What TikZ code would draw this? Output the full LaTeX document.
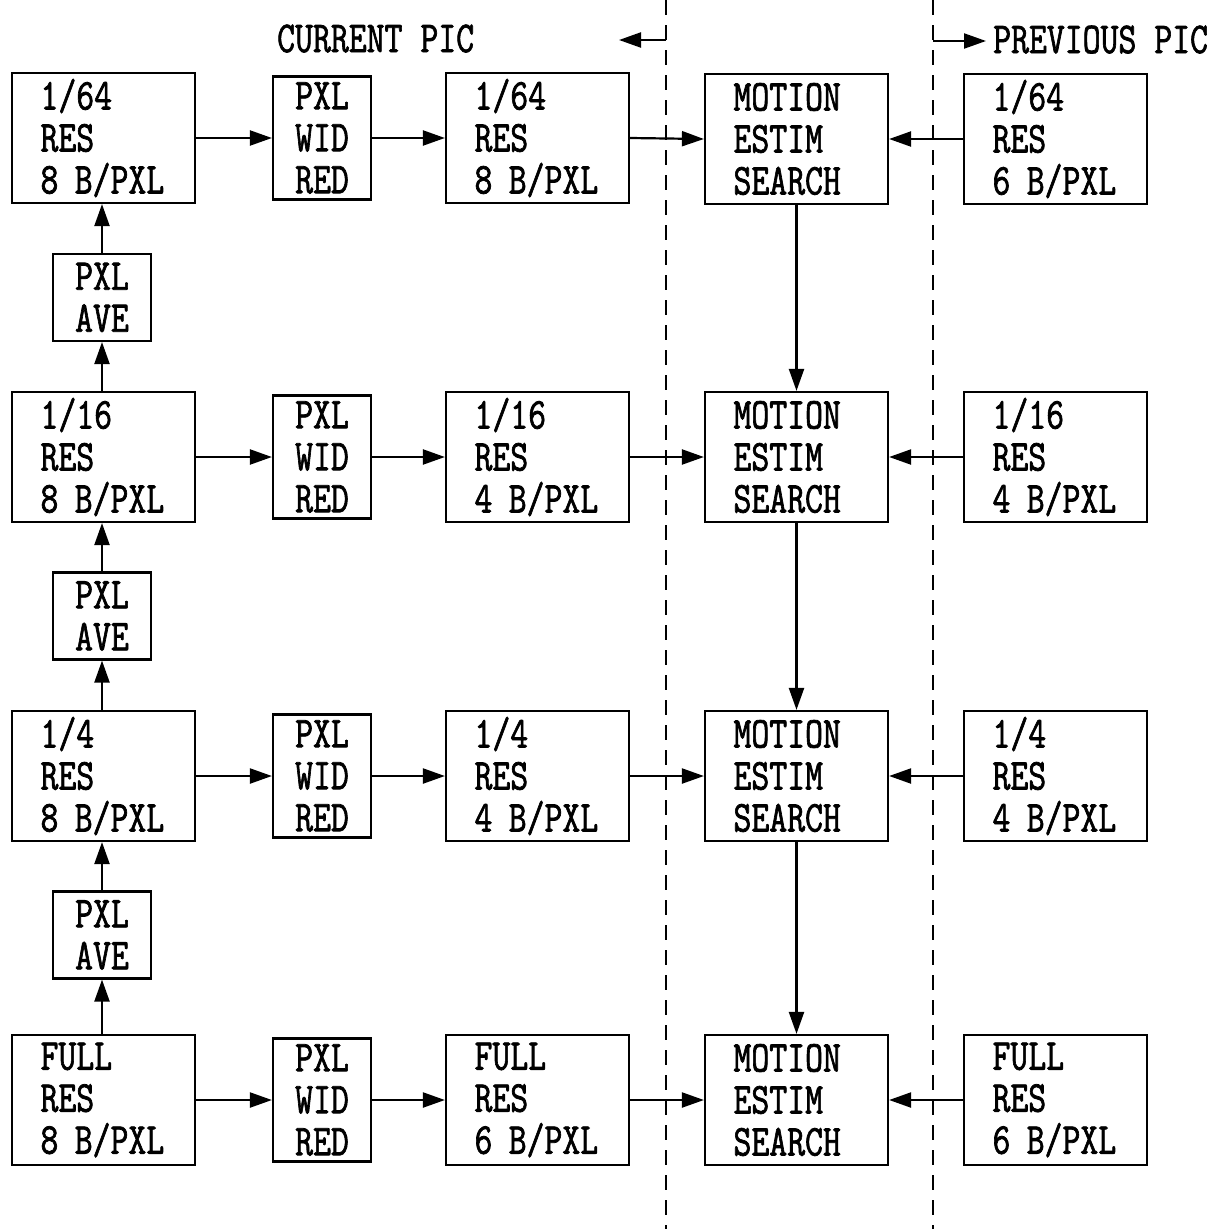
\documentclass[tikz,border=0pt]{standalone}
\usepackage{fontspec}
\usepackage{graphicx}
\usetikzlibrary{arrows.meta}
\newcommand{\cn}[1]{\scalebox{0.79}[1]{\special{pdf:literal 2 Tr 0.8 w}#1}}
\newcommand{\gap}{\hspace*{6pt} }
\tikzset{
  txt/.style={font=\ttfamily\fontsize{44}{42}\selectfont},
  bigbox/.style={txt,draw,line width=2.2pt,minimum height=130pt,text width=126pt,inner xsep=28.5pt,inner ysep=0pt,align=left},
  widbox/.style={txt,draw,line width=2.2pt,minimum height=123pt,text width=80pt,inner xsep=9pt,inner ysep=0pt,align=center},
  avebox/.style={txt,draw,line width=2.2pt,minimum height=87pt,text width=80pt,inner xsep=9pt,inner ysep=0pt,align=center},
  arr/.style={line width=2.2pt,-{Triangle[length=22pt,width=15pt]}},
  divider/.style={line width=2pt,dash pattern=on 15pt off 10pt},
  lbl/.style={txt,anchor=base west,inner sep=0pt}
}
\begin{document}
\begin{tikzpicture}[x=1pt,y=-1pt]
\useasboundingbox (0,0) rectangle (1228,1229);
% dividers
\coordinate (d1t) at (666,0); \coordinate (d1b) at (666,1229);
\coordinate (d2t) at (933,0); \coordinate (d2b) at (933,1229);
\draw[divider] (d1t) -- (d1b);
\draw[divider] (d2t) -- (d2b);
% header
\node[lbl] (cur) at (277,52) {\cn{CURRENT PIC}};
\node[lbl] (prev) at (993,53) {\cn{PREVIOUS PIC}};
\coordinate (h1s) at (666,40); \coordinate (h1e) at (619,40);
\coordinate (h2s) at (933,41); \coordinate (h2e) at (986,41);
\draw[arr] (h1s) -- (h1e);
\draw[arr] (h2s) -- (h2e);
% column 1
\node[bigbox] (a1) at (103.5,138) {\cn{1/64}\\\cn{RES}\\\cn{8\gap B/PXL}};
\node[bigbox] (a2) at (103.5,457) {\cn{1/16}\\\cn{RES}\\\cn{8\gap B/PXL}};
\node[bigbox] (a3) at (103.5,776) {\cn{1/4}\\\cn{RES}\\\cn{8\gap B/PXL}};
\node[bigbox] (a4) at (103.5,1100) {\cn{FULL}\\\cn{RES}\\\cn{8\gap B/PXL}};
\node[avebox] (v1) at (102,297.5) {\cn{PXL}\\\cn{AVE}};
\node[avebox] (v2) at (102,616) {\cn{PXL}\\\cn{AVE}};
\node[avebox] (v3) at (102,935) {\cn{PXL}\\\cn{AVE}};
% column 2
\node[widbox] (w1) at (322,138) {\cn{PXL}\\\cn{WID}\\\cn{RED}};
\node[widbox] (w2) at (322,457) {\cn{PXL}\\\cn{WID}\\\cn{RED}};
\node[widbox] (w3) at (322,776) {\cn{PXL}\\\cn{WID}\\\cn{RED}};
\node[widbox] (w4) at (322,1100) {\cn{PXL}\\\cn{WID}\\\cn{RED}};
% column 3
\node[bigbox] (c1) at (537.5,138) {\cn{1/64}\\\cn{RES}\\\cn{8\gap B/PXL}};
\node[bigbox] (c2) at (537.5,457) {\cn{1/16}\\\cn{RES}\\\cn{4\gap B/PXL}};
\node[bigbox] (c3) at (537.5,776) {\cn{1/4}\\\cn{RES}\\\cn{4\gap B/PXL}};
\node[bigbox] (c4) at (537.5,1100) {\cn{FULL}\\\cn{RES}\\\cn{6\gap B/PXL}};
% column 4
\node[bigbox] (m1) at (796.5,139) {\cn{MOTION}\\\cn{ESTIM}\\\cn{SEARCH}};
\node[bigbox] (m2) at (796.5,457) {\cn{MOTION}\\\cn{ESTIM}\\\cn{SEARCH}};
\node[bigbox] (m3) at (796.5,776) {\cn{MOTION}\\\cn{ESTIM}\\\cn{SEARCH}};
\node[bigbox] (m4) at (796.5,1100) {\cn{MOTION}\\\cn{ESTIM}\\\cn{SEARCH}};
% column 5
\node[bigbox] (p1) at (1055.5,139) {\cn{1/64}\\\cn{RES}\\\cn{6\gap B/PXL}};
\node[bigbox] (p2) at (1055.5,457) {\cn{1/16}\\\cn{RES}\\\cn{4\gap B/PXL}};
\node[bigbox] (p3) at (1055.5,776) {\cn{1/4}\\\cn{RES}\\\cn{4\gap B/PXL}};
\node[bigbox] (p4) at (1055.5,1100) {\cn{FULL}\\\cn{RES}\\\cn{6\gap B/PXL}};
% vertical arrows column 1
\draw[arr] (a4.north -| v3) -- (v3.south);
\draw[arr] (v3.north) -- (a3.south -| v3);
\draw[arr] (a3.north -| v2) -- (v2.south);
\draw[arr] (v2.north) -- (a2.south -| v2);
\draw[arr] (a2.north -| v1) -- (v1.south);
\draw[arr] (v1.north) -- (a1.south -| v1);
% vertical arrows column 4
\draw[arr] (m1.south) -- (m2.north);
\draw[arr] (m2.south) -- (m3.north);
\draw[arr] (m3.south) -- (m4.north);
% horizontal arrows
\foreach \i in {1,2,3,4}{
  \draw[arr] (a\i.east) -- (w\i.west);
  \draw[arr] (w\i.east) -- (c\i.west);
  \draw[arr] (c\i.east) -- (m\i.west);
  \draw[arr] (p\i.west) -- (m\i.east);
}
\end{tikzpicture}
\end{document}
